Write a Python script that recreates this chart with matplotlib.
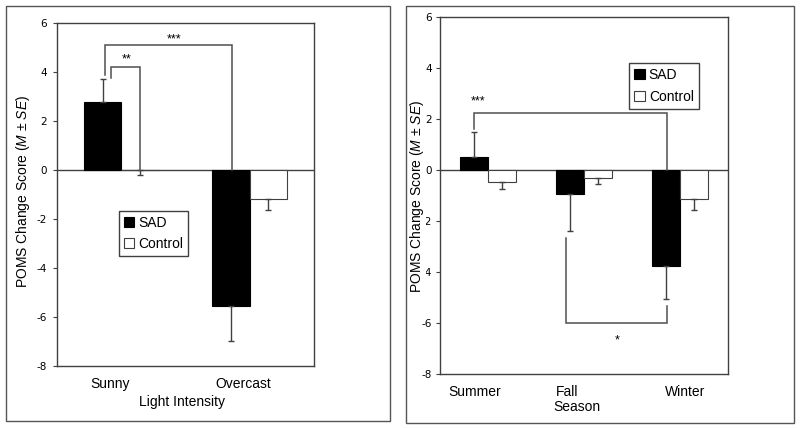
import matplotlib
matplotlib.use("Agg")
import matplotlib.pyplot as plt
import numpy as np
from matplotlib.patches import Rectangle

plt.rcParams['font.family'] = ['Liberation Sans', 'DejaVu Sans']
plt.rcParams['mathtext.fontset'] = 'custom'
plt.rcParams['mathtext.it'] = 'Liberation Sans:italic'
plt.rcParams['mathtext.rm'] = 'Liberation Sans'

# ---- data ----
light_cats = ["Sunny", "Overcast"]
light_sad = [2.78, -5.57]
light_sad_se = [0.92, 1.42]
light_ctrl = [-0.03, -1.21]
light_ctrl_se = [0.19, 0.43]

season_cats = ["Summer", "Fall", "Winter"]
season_sad = [0.51, -0.95, -3.76]
season_sad_se = [1.00, 1.43, 1.30]
season_ctrl = [-0.47, -0.29, -1.13]
season_ctrl_se = [0.28, 0.26, 0.43]

yticks = [6, 4, 2, 0, -2, -4, -6, -8]
series_names = ["SAD", "Control"]

LINE = '#404040'
W = 800 / 100
H = 428 / 100
fig = plt.figure(figsize=(W, H), dpi=100)

def px(x, y, w, h):
    return [x / 800, 1 - (y + h) / 428, w / 800, h / 428]

# panel boxes
for (x0, y0, x1, y1) in [(6, 6, 390, 421), (406, 6, 794, 423)]:
    fig.patches.append(Rectangle((x0 / 800, 1 - y1 / 428), (x1 - x0) / 800, (y1 - y0) / 428,
                                 transform=fig.transFigure, fill=False, edgecolor='#555555', lw=1.0))

def draw_panel(ax, cats, sad, sad_se, ctrl, ctrl_se, bw, label_offsets, ypad):
    x = np.arange(len(cats))
    xs = x - bw / 2
    xc = x + bw / 2
    ax.bar(xs, sad, bw, color='black', edgecolor='black', lw=0.8, zorder=2, label=series_names[0])
    ax.bar(xc, ctrl, bw, color='white', edgecolor=LINE, lw=0.8, zorder=2, label=series_names[1])
    for xi, v, e in zip(xs, sad, sad_se):
        lo, hi = (0, e) if v >= 0 else (e, 0)
        ax.errorbar(xi, v, yerr=[[lo], [hi]], fmt='none', ecolor=LINE, elinewidth=1.0, capsize=2.5, capthick=1.0, zorder=3)
    for xi, v, e in zip(xc, ctrl, ctrl_se):
        lo, hi = (0, e) if v >= 0 else (e, 0)
        ax.errorbar(xi, v, yerr=[[lo], [hi]], fmt='none', ecolor=LINE, elinewidth=1.0, capsize=2.5, capthick=1.0, zorder=3)
    ax.axhline(0, color=LINE, lw=1.0, zorder=1)
    ax.set_xlim(-0.5, len(cats) - 0.5)
    ax.set_ylim(-8, 6)
    ax.set_yticks(yticks)
    ax.set_yticklabels([str(t) for t in yticks], fontfamily='DejaVu Sans', fontsize=7.5)
    ax.tick_params(axis='y', direction='out', length=3, width=0.8, color=LINE, pad=ypad)
    ax.set_xticks(x + np.array(label_offsets))
    ax.set_xticklabels(cats, fontsize=10)
    ax.tick_params(axis='x', length=0, pad=8)
    for s in ax.spines.values():
        s.set_color(LINE)
        s.set_linewidth(1.0)
    leg = ax.legend(handlelength=0.75, handleheight=0.75, handletextpad=0.3, labelspacing=0.55,
                    borderpad=0.35, fancybox=False, framealpha=1, edgecolor=LINE, fontsize=10,
                    loc='upper left', borderaxespad=0)
    leg.get_frame().set_linewidth(1.0)
    return leg

def bracket(ax, pts):
    xs, ys = zip(*pts)
    ax.plot(xs, ys, color='#505050', lw=1.1, zorder=4, solid_joinstyle='miter')

# ---- left panel ----
ax1 = fig.add_axes(px(57, 22.7, 257, 343))
leg1 = draw_panel(ax1, light_cats, light_sad, light_sad_se, light_ctrl, light_ctrl_se, 0.29, [-0.085, -0.05], 4.5)
leg1.set_bbox_to_anchor((0.241, 0.452))
bracket(ax1, [(-0.124, 3.87), (-0.124, 5.09), (0.862, 5.09), (0.862, 0)])
bracket(ax1, [(-0.08, 3.74), (-0.08, 4.2), (0.145, 4.2), (0.145, 0)])
ax1.text(0.41, 5.3, "***", ha='center', va='center', fontsize=9)
ax1.text(0.044, 4.5, "**", ha='center', va='center', fontsize=9)
fig.text(181.7 / 800, 1 - 401.7 / 428, "Light Intensity", ha='center', va='center', fontsize=10)
fig.text(23 / 800, 1 - 191.7 / 428, r"POMS Change Score ($\mathit{M}$ ± $\mathit{SE}$)",
         ha='center', va='center', rotation=90, fontsize=10)

# ---- right panel ----
ax2 = fig.add_axes(px(440, 17.3, 287.7, 356.7))
leg2 = draw_panel(ax2, season_cats, season_sad, season_sad_se, season_ctrl, season_ctrl_se, 0.29, [-0.14, -0.17, 0.06], 3.0)
leg2.set_bbox_to_anchor((0.658, 0.871))
bracket(ax2, [(-0.15, 1.6), (-0.15, 2.25), (1.87, 2.25), (1.87, 0)])
bracket(ax2, [(0.81, -2.67), (0.81, -6.0), (1.87, -6.0), (1.87, -5.33)])
ax2.text(-0.106, 2.7, "***", ha='center', va='center', fontsize=9)
ax2.text(1.35, -6.7, "*", ha='center', va='center', fontsize=9)
fig.text(576.7 / 800, 1 - 406.7 / 428, "Season", ha='center', va='center', fontsize=10)
fig.text(416.5 / 800, 1 - 196 / 428, r"POMS Change Score ($\mathit{M}$ ± $\mathit{SE}$)",
         ha='center', va='center', rotation=90, fontsize=10,
         bbox=dict(facecolor='white', edgecolor='none', pad=0.0))

fig.savefig("out.png", dpi=100)
